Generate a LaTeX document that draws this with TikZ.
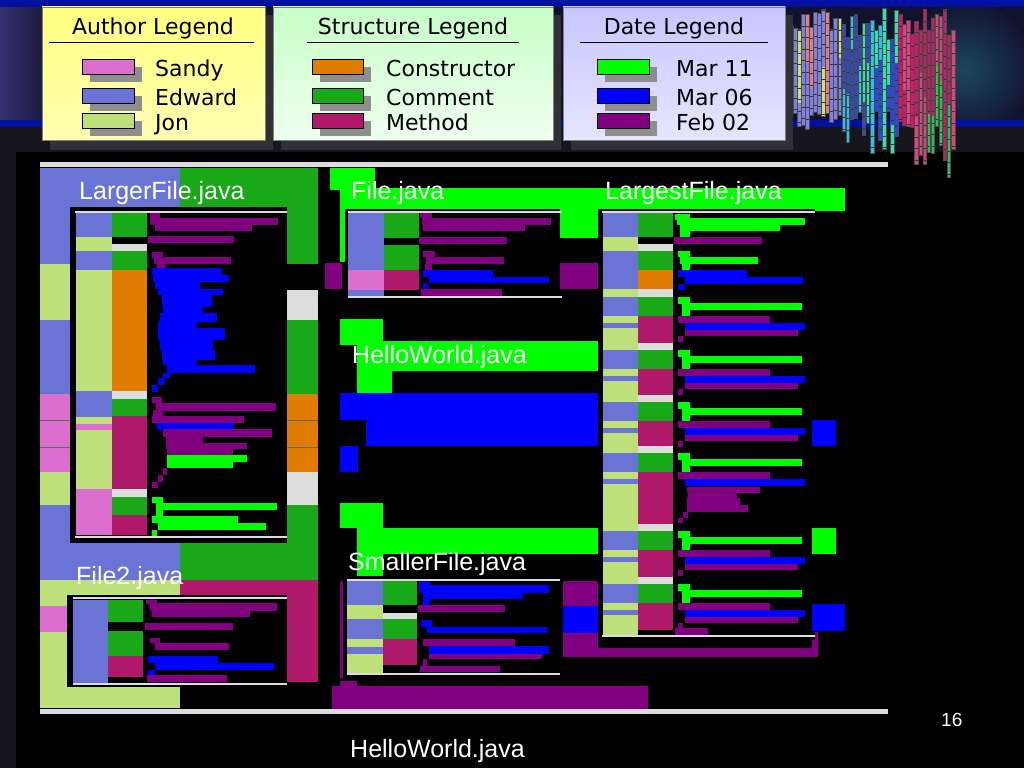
\documentclass[tikz,border=0pt]{standalone}
\usepackage{fontspec}
\setmainfont{Liberation Sans}
\newfontfamily\legendfont{DejaVu Sans}
\usepackage{tikz}

% authors, structures, dates
\definecolor{sandy}{HTML}{DC6ED0}
\definecolor{edward}{HTML}{6A74D4}
\definecolor{jon}{HTML}{BEE07A}
\definecolor{ctor}{HTML}{E07C00}
\definecolor{comm}{HTML}{18A818}
\definecolor{meth}{HTML}{B0186A}
\definecolor{datenew}{HTML}{00FF00}
\definecolor{datemid}{HTML}{0000FF}
\definecolor{dateold}{HTML}{800080}
\definecolor{lgray}{HTML}{DCDCDC}
% backdrop
\definecolor{bgnavy}{HTML}{12122E}
\definecolor{bgpurple}{HTML}{34306E}
\definecolor{bgshade}{HTML}{16161C}
\definecolor{bandblue}{HTML}{0010A0}
\definecolor{glow}{HTML}{1C4660}
\definecolor{shadowgray}{HTML}{8E8E8E}
\definecolor{boxshadow}{HTML}{303036}
% skyline
\definecolor{skA}{HTML}{8080E0}
\definecolor{skB}{HTML}{C8E070}
\definecolor{skC}{HTML}{E07C8C}
\definecolor{skD}{HTML}{30E0B0}
\definecolor{skE}{HTML}{28C0F0}
\definecolor{skF}{HTML}{2848E0}
\definecolor{skG}{HTML}{D01868}
\definecolor{skH}{HTML}{E04080}
\definecolor{skI}{HTML}{30C050}

\begin{document}
\begin{tikzpicture}[
    x=1pt, y=-1pt,
    filelabel/.style={text=white, font=\fontsize{25}{30}\selectfont, anchor=base west, inner sep=0pt},
    legtitle/.style={font=\legendfont\fontsize{22}{26}\selectfont, anchor=base, inner sep=0pt},
    legentry/.style={font=\legendfont\fontsize{22}{26}\selectfont, anchor=base west, inner sep=0pt},
    swatch/.style={draw=black, line width=0.8pt},
    grayline/.style={draw=lgray, line width=2.5pt}
]
\useasboundingbox (0,0) rectangle (1024,768);

% backdrop
\fill[black] (0,0) rectangle (1024,768);
\fill[bgnavy] (0,0) rectangle (1024,127);
\fill[left color=bgpurple, right color=bgnavy] (0,7) rectangle (60,120);
\begin{scope}
  \clip (0,7) rectangle (1024,120);
  \fill[inner color=glow, outer color=bgnavy] (965,70) circle (70);
\end{scope}
\fill[bgshade] (0,127) rectangle (1024,152);
\fill[bgshade] (0,152) rectangle (16,768);
\fill[bandblue] (0,0) rectangle (1024,7);
\fill[bandblue] (0,120) rectangle (1024,127);

% skyline
\pgfmathsetseed{11}
\foreach \i in {0,...,41} {
  \pgfmathsetmacro{\xl}{785+\i*4.05}
  \pgfmathtruncatemacro{\g}{\i/14}
  \pgfmathsetmacro{\yt}{8+32*rnd}
  \pgfmathsetmacro{\yb}{110+(20+25*\g)*rnd}
  \pgfmathsetmacro{\ym}{\yt+(\yb-\yt)*(0.3+0.5*rnd)}
  \pgfmathtruncatemacro{\ka}{3*\g+random(0,2)}
  \pgfmathtruncatemacro{\kb}{3*\g+random(0,2)}
  \pgfmathsetmacro{\ca}{{"skA","skB","skC","skD","skE","skF","skG","skH","skG"}[\ka]}
  \pgfmathsetmacro{\cb}{{"skA","skB","skC","skD","skE","skF","skH","skG","skI"}[\kb]}
  \fill[\ca] (\xl,\yt) rectangle (\xl+3.6,\ym);
  \fill[\cb] (\xl,\ym) rectangle (\xl+3.6,\yb);
  \draw[black!80, line width=3.6pt, dash pattern=on 0.6pt off 11pt] (\xl+1.8,\yt) -- (\xl+1.8,\yb);
  \draw[black!70, line width=0.3pt] (\xl,\yt) rectangle (\xl+3.6,\yb);
}

% legends
\fill[boxshadow] (50,15) rectangle (273,150);
\fill[boxshadow] (281,15) rectangle (561,150);
\fill[boxshadow] (571,15) rectangle (793,150);
\path[draw=black!50, top color=yellow!50, bottom color=yellow!30!white] (42,7) rectangle (265,140);
\path[draw=black!50, top color=green!22, bottom color=green!6!white] (273,7) rectangle (553,140);
\path[draw=black!50, top color=blue!22, bottom color=blue!10!white] (563,7) rectangle (785,140);

\node[legtitle] (authortitle) at (153,35) {Author Legend};
\node[legtitle] (structtitle) at (413,35) {Structure Legend};
\node[legtitle] (datetitle) at (674,35) {Date Legend};
\draw[black, line width=0.8pt] (49,42) -- (254,42);
\draw[black, line width=0.8pt] (307,42) -- (519,42);
\draw[black, line width=0.8pt] (580,42) -- (768,42);

\foreach \yy/\c/\t [count=\k] in {59/sandy/Sandy, 88/edward/Edward, 113/jon/Jon} {
  \fill[shadowgray] (90,\yy+8) rectangle (142,\yy+23);
  \fill[\c, swatch] (82,\yy) rectangle (134,\yy+15);
  \node[legentry] (author\k) at (155,\yy+17) {\t};
}
\foreach \yy/\c/\t [count=\k] in {59/ctor/Constructor, 88/comm/Comment, 113/meth/Method} {
  \fill[shadowgray] (320,\yy+8) rectangle (371,\yy+23);
  \fill[\c, swatch] (312,\yy) rectangle (363,\yy+15);
  \node[legentry] (struct\k) at (386,\yy+17) {\t};
}
\foreach \yy/\c/\t [count=\k] in {59/datenew/Mar 11, 88/datemid/Mar 06, 113/dateold/Feb 02} {
  \fill[shadowgray] (605,\yy+8) rectangle (657,\yy+23);
  \fill[\c, swatch] (597,\yy) rectangle (649,\yy+15);
  \node[legentry] (date\k) at (676,\yy+17) {\t};
}

% frame lines
\fill[lgray] (40,162) rectangle (888,167);
\fill[lgray] (40,709) rectangle (888,714);

% outer regions
\foreach \xa/\ya/\xb/\yb/\c in {
    40/168/70/264/edward, 40/264/70/320/jon, 40/320/70/394/edward,
    40/394/70/472/sandy, 40/472/70/505/jon, 40/505/70/580/edward,
    70/168/180/210/edward, 70/543/180/580/edward,
    180/168/318/264/comm, 180/505/318/580/comm,
    285/290/318/320/lgray, 285/320/318/394/comm, 285/394/318/472/ctor,
    285/472/318/505/lgray,
    40/580/180/708/jon, 40/606/67/632/sandy, 180/580/318/682/meth}
  \fill[\c] (\xa,\ya) rectangle (\xb,\yb);
\foreach \yy in {420,447} {
  \draw[black!60, line width=0.5pt] (40,\yy) -- (70,\yy);
  \draw[black!60, line width=0.5pt] (285,\yy) -- (318,\yy);
}

% date regions
\foreach \xa/\ya/\xb/\yb/\c in {
    330/168/375/190/datenew, 340/188/845/211/datenew, 557/208/598/238/datenew,
    340/208/345/262/datenew, 325/263/342/289/dateold, 558/263/598/289/dateold,
    340/319/383/345/datenew, 357/341/598/371/datenew, 357/371/392/393/datenew,
    340/393/598/420/datemid, 366/419/598/446/datemid, 340/446/358/472/datemid,
    340/503/383/528/datenew, 357/528/598/554/datenew, 357/554/383/576/datenew,
    563/581/598/606/dateold, 563/606/598/633/datemid, 563/633/598/657/dateold,
    598/648/818/657/dateold, 812/632/818/657/dateold,
    332/686/648/709/dateold, 340/681/357/687/dateold, 340/581/343/678/dateold}
  \fill[\c] (\xa,\ya) rectangle (\xb,\yb);

% LargerFile.java
\fill[black] (70,207) rectangle (287,543);
\foreach \ya/\yb/\c in {213/237/edward, 237/251/jon, 251/270/edward, 270/391/jon,
    391/417/edward, 417/424/jon, 424/430/sandy, 430/489/jon, 489/535/sandy}
  \fill[\c] (76,\ya) rectangle (112,\yb);
\foreach \ya/\yb/\c in {213/237/comm, 244/251/lgray, 251/270/comm, 270/391/ctor,
    391/399/lgray, 399/416/comm, 416/489/meth, 489/497/lgray, 497/515/comm, 515/535/meth}
  \fill[\c] (112,\ya) rectangle (147,\yb);
\foreach \xa/\ya/\xb/\yb/\c in {
    150/213/160/219/dateold, 150/218/278/225/dateold, 155/225/252/231/dateold,
    148/236/234/243/dateold, 152/252/163/258/dateold, 154/257/231/264/dateold,
    157/264/166/270/dateold,
    152/268/222/275/datemid, 153/275/229/282/datemid, 155/282/200/289/datemid,
    158/289/223/295/datemid, 162/295/212/307/datemid, 163/307/203/313/datemid,
    160/313/217/322/datemid, 158/322/197/328/datemid, 158/328/225/340/datemid,
    160/340/213/350/datemid, 162/350/215/360/datemid, 163/360/197/365/datemid,
    167/365/255/373/datemid, 163/373/170/378/datemid, 158/378/165/385/datemid,
    152/385/158/392/datemid,
    152/397/162/403/dateold, 156/403/276/411/dateold, 153/410/163/416/dateold,
    152/416/244/423/dateold, 157/423/234/430/datemid, 163/429/272/437/dateold,
    166/437/203/443/dateold, 166/443/247/449/dateold, 167/449/233/455/dateold,
    167/455/247/462/datenew, 167/462/233/468/datenew,
    163/468/167/475/dateold, 158/475/163/482/dateold, 152/482/158/488/dateold,
    152/497/163/503/datenew, 156/503/277/510/datenew, 156/510/163/516/datenew,
    152/516/238/523/datenew, 158/523/266/530/datenew, 152/530/157/537/datenew}
  \fill[\c] (\xa,\ya) rectangle (\xb,\yb);
\draw[grayline] (75,212) -- (287,212);
\draw[grayline] (75,537) -- (287,537);

% File.java
\fill[black] (345,209) rectangle (560,300);
\foreach \ya/\yb/\c in {213/270/edward, 270/290/sandy, 290/297/edward}
  \fill[\c] (348,\ya) rectangle (384,\yb);
\foreach \ya/\yb/\c in {213/238/comm, 245/270/comm, 270/290/meth}
  \fill[\c] (384,\ya) rectangle (419,\yb);
\foreach \xa/\ya/\xb/\yb/\c in {
    420/213/432/218/dateold, 422/218/551/225/dateold, 423/225/525/231/dateold,
    419/237/507/244/dateold, 423/251/435/257/dateold, 426/257/504/264/dateold,
    425/264/432/270/dateold, 423/270/493/277/datemid, 429/277/549/283/datemid,
    423/283/428/289/datemid, 421/289/502/297/dateold}
  \fill[\c] (\xa,\ya) rectangle (\xb,\yb);
\draw[grayline] (348,212) -- (562,212);
\draw[grayline] (348,297) -- (562,297);

% SmallerFile.java
\fill[black] (344,578) rectangle (562,677);
\foreach \ya/\yb/\c in {581/605/edward, 605/619/jon, 619/639/edward, 639/647/jon,
    647/654/edward, 654/673/jon}
  \fill[\c] (347,\ya) rectangle (383,\yb);
\foreach \ya/\yb/\c in {581/605/comm, 613/619/lgray, 619/639/comm, 639/665/meth}
  \fill[\c] (383,\ya) rectangle (417,\yb);
\foreach \xa/\ya/\xb/\yb/\c in {
    419/581/430/586/datemid, 419/585/549/593/datemid, 423/593/523/599/datemid,
    423/599/430/605/datemid, 418/605/505/612/dateold, 421/620/432/627/datemid,
    427/627/547/633/datemid, 423/639/515/646/dateold, 429/646/549/654/datemid,
    429/654/542/659/dateold, 423/659/427/666/dateold, 420/666/500/672/dateold}
  \fill[\c] (\xa,\ya) rectangle (\xb,\yb);
\draw[grayline] (347,580) -- (560,580);
\draw[grayline] (347,674) -- (560,674);

% LargestFile.java
\fill[black] (598,209) rectangle (815,640);
\foreach \ya/\yb/\c in {213/237/edward, 237/251/jon, 251/289/edward, 289/636/jon}
  \fill[\c] (603,\ya) rectangle (638,\yb);
\foreach \s in {297,350,402,453,531,584} {
  \fill[edward] (603,\s) rectangle (638,\s+19);
  \fill[edward] (603,\s+26) rectangle (638,\s+31);
}
\foreach \ya/\yb/\c in {213/237/comm, 244/251/lgray, 251/270/comm, 270/289/ctor, 289/297/lgray}
  \fill[\c] (638,\ya) rectangle (673,\yb);
\foreach \s/\e in {297/350, 350/402, 402/453, 453/531, 531/584} {
  \fill[comm] (638,\s) rectangle (673,\s+19);
  \fill[meth] (638,\s+19) rectangle (673,\e-7);
  \fill[lgray] (638,\e-7) rectangle (673,\e);
}
\fill[comm] (638,584) rectangle (673,603);
\fill[meth] (638,603) rectangle (673,630);
\foreach \xa/\ya/\xb/\yb/\c in {
    675/214/690/220/datenew, 677/218/805/225/datenew, 680/225/780/231/datenew,
    680/231/690/237/datenew, 674/237/762/244/dateold,
    678/251/690/257/datenew, 680/257/758/264/datenew, 682/264/690/270/datenew,
    678/270/747/277/datemid, 685/277/803/284/datemid, 678/284/685/290/datemid,
    687/487/760/493/dateold, 688/493/737/498/dateold, 687/498/740/505/dateold,
    687/505/748/512/dateold, 683/512/688/518/dateold, 678/518/683/523/dateold,
    675/628/708/635/dateold}
  \fill[\c] (\xa,\ya) rectangle (\xb,\yb);
\foreach \s in {297,350,402,453,531,584} {
  \fill[datenew] (678,\s) rectangle (690,\s+7);
  \fill[datenew] (682,\s+6) rectangle (802,\s+13);
  \fill[datenew] (682,\s+13) rectangle (690,\s+19);
  \fill[dateold] (678,\s+19) rectangle (770,\s+26);
  \fill[datemid] (685,\s+26) rectangle (805,\s+33);
}
\foreach \s in {297,350,402,531,584} {
  \fill[dateold] (685,\s+33) rectangle (798,\s+39);
  \fill[dateold] (678,\s+39) rectangle (683,\s+45);
}
\draw[grayline] (602,212) -- (815,212);
\draw[grayline] (602,636) -- (815,636);
\foreach \xa/\ya/\xb/\yb/\c in {812/420/836/446/datemid, 812/528/836/554/datenew,
    812/604/845/631/datemid}
  \fill[\c] (\xa,\ya) rectangle (\xb,\yb);

% File2.java
\fill[black] (67,595) rectangle (287,687);
\fill[edward] (73,600) rectangle (108,683);
\foreach \ya/\yb/\c in {600/622/comm, 631/656/comm, 656/677/meth}
  \fill[\c] (108,\ya) rectangle (143,\yb);
\foreach \xa/\ya/\xb/\yb/\c in {
    146/600/157/604/dateold, 150/603/277/611/dateold, 152/611/250/617/dateold,
    145/623/233/630/dateold, 150/638/160/643/dateold, 155/643/229/650/dateold,
    148/656/218/663/datemid, 155/663/274/670/datemid, 148/670/155/675/datemid,
    147/675/227/682/dateold}
  \fill[\c] (\xa,\ya) rectangle (\xb,\yb);
\draw[grayline] (73,598) -- (287,598);
\draw[grayline] (73,684) -- (287,684);

% labels
\node[filelabel] (largerlbl) at (79,199) {LargerFile.java};
\node[filelabel] (filelbl) at (351,199) {File.java};
\node[filelabel] (largestlbl) at (605,199) {LargestFile.java};
\node[filelabel] (hellolbl) at (352,363) {HelloWorld.java};
\node[filelabel] (smallerlbl) at (348,570) {SmallerFile.java};
\node[filelabel] (file2lbl) at (76,584) {File2.java};
\node[filelabel] (hellobottom) at (350,757) {HelloWorld.java};
\node[text=white, font=\fontsize{19}{22}\selectfont, anchor=base west, inner sep=0pt] (pagenum) at (941,726) {16};

\end{tikzpicture}
\end{document}
